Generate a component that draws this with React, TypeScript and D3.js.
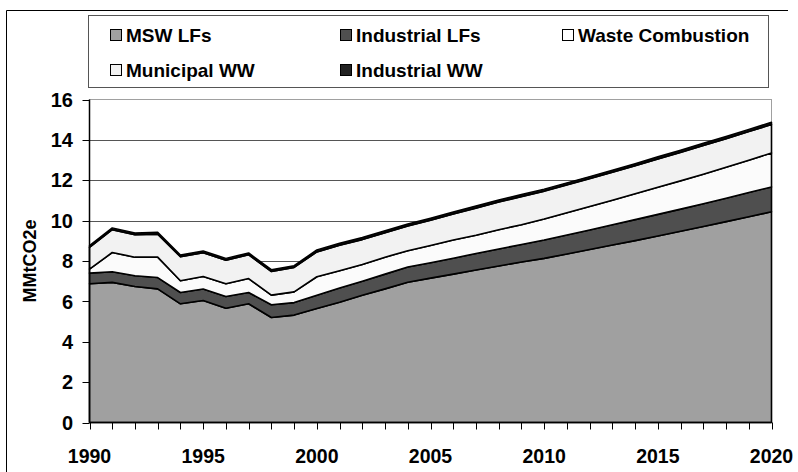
import * as d3 from "d3";

// years on the x axis
const years = d3.range(1990, 2021);

// MMtCO2e by source, 1990-2020
const mswLFs = [
  6.87, 6.94, 6.74, 6.62, 5.88, 6.04, 5.66, 5.88, 5.2, 5.32,
  5.65, 5.96, 6.3, 6.62, 6.95, 7.15, 7.35, 7.55, 7.75, 7.95,
  8.13, 8.35, 8.57, 8.79, 9.01, 9.24, 9.47, 9.71, 9.95, 10.19, 10.44,
];
const industrialLFs = [
  0.53, 0.53, 0.53, 0.56, 0.56, 0.57, 0.58, 0.56, 0.63, 0.62,
  0.65, 0.7, 0.7, 0.73, 0.75, 0.76, 0.79, 0.82, 0.84, 0.87,
  0.91, 0.94, 0.97, 1.01, 1.04, 1.07, 1.1, 1.13, 1.16, 1.2, 1.23,
];
const wasteCombustion = [
  0.2, 0.95, 0.92, 1.01, 0.58, 0.62, 0.63, 0.69, 0.48, 0.53,
  0.92, 0.86, 0.83, 0.84, 0.81, 0.86, 0.9, 0.91, 0.96, 0.98,
  1.04, 1.1, 1.16, 1.21, 1.28, 1.34, 1.4, 1.46, 1.53, 1.6, 1.68,
];
const municipalWW = [
  1.07, 1.13, 1.11, 1.14, 1.19, 1.18, 1.17, 1.18, 1.17, 1.21,
  1.23, 1.26, 1.23, 1.21, 1.22, 1.25, 1.29, 1.34, 1.37, 1.39,
  1.38, 1.38, 1.38, 1.39, 1.39, 1.4, 1.41, 1.42, 1.42, 1.42, 1.41,
];
const industrialWW = [
  0.09, 0.09, 0.09, 0.09, 0.09, 0.09, 0.09, 0.09, 0.09, 0.09,
  0.1, 0.1, 0.1, 0.1, 0.1, 0.1, 0.1, 0.1, 0.1, 0.1,
  0.1, 0.1, 0.1, 0.1, 0.1, 0.11, 0.11, 0.11, 0.11, 0.11, 0.11,
];

const seriesNames = ["MSW LFs", "Industrial LFs", "Waste Combustion", "Municipal WW", "Industrial WW"];
const seriesValues = [mswLFs, industrialLFs, wasteCombustion, municipalWW, industrialWW];
const fills = ["#a0a0a0", "#4f4f4f", "#fbfbfb", "#f2f2f2", "#111111"];
const swatches = ["#a0a0a0", "#4f4f4f", "#ffffff", "#f2f2f2", "#222222"];
const yTicks = [0, 2, 4, 6, 8, 10, 12, 14, 16];
const xLabels = [1990, 1995, 2000, 2005, 2010, 2015, 2020];

const font = "'Liberation Sans', Arial, sans-serif";

export default function App() {
  const width = 798;
  const height = 472;
  const left = 89.5;
  const right = 771.5;
  const top = 99.5;
  const bottom = 422.5;

  const x = d3.scaleLinear().domain([1990, 2020]).range([left, right]);
  const y = d3.scaleLinear().domain([0, 16]).range([bottom, top]);

  // build table for the stack
  const table = years.map((yr, i) => {
    const row: any = { year: yr };
    seriesNames.forEach((n, j) => (row[n] = seriesValues[j][i]));
    return row;
  });
  const stacked = d3.stack<any>().keys(seriesNames)(table);

  const area = d3
    .area<any>()
    .x((d) => x(d.data.year))
    .y0((d) => y(d[0]))
    .y1((d) => y(d[1]));

  // legend positions
  const legendCols = [110, 340, 562];
  const legendRows = [35, 70];

  return (
    <svg
      width={width}
      height={height}
      style={{ position: "absolute", left: 0, top: 0, background: "#fff" }}
      fontFamily={font}
    >
      {/* outer frame */}
      <line x1={6.5} y1={10.5} x2={788} y2={10.5} stroke="#000" strokeWidth={1} />
      <line x1={6.5} y1={10.5} x2={6.5} y2={472} stroke="#000" strokeWidth={1} />

      {/* legend */}
      <rect x={88.5} y={15.5} width={680} height={72} fill="#fff" stroke="#555" strokeWidth={1} />
      {seriesNames.map((n, i) => {
        const cx = legendCols[i % 3];
        const cy = legendRows[Math.floor(i / 3)];
        return (
          <g key={n}>
            <rect x={cx + 0.5} y={cy - 5.5} width={11} height={11} fill={swatches[i]} stroke="#000" strokeWidth={1} />
            <text x={cx + 16} y={cy} dy="0.36em" fontSize={19} fontWeight="bold">
              {n}
            </text>
          </g>
        );
      })}

      {/* plot area border (gray) */}
      <rect x={left} y={top} width={right - left} height={bottom - top} fill="#fff" stroke="#a0a0a0" strokeWidth={1} />

      {/* gridlines */}
      {yTicks.slice(1, -1).map((t) => (
        <line key={t} x1={left} x2={right} y1={Math.round(y(t)) + 0.5} y2={Math.round(y(t)) + 0.5} stroke="#555" strokeWidth={1} />
      ))}

      {/* stacked areas */}
      {stacked.map((s, i) => (
        <path
          key={s.key}
          d={area(s) || ""}
          fill={fills[i]}
          stroke="#000"
          strokeWidth={i === 4 ? 1.5 : 1.6}
          strokeLinejoin="round"
        />
      ))}

      {/* axes */}
      <line x1={left} x2={left} y1={top} y2={bottom} stroke="#000" strokeWidth={1.5} />
      <line x1={left} x2={right} y1={bottom} y2={bottom} stroke="#000" strokeWidth={1.5} />

      {yTicks.map((t) => (
        <g key={t}>
          <line x1={left - 7} x2={left} y1={Math.round(y(t)) + 0.5} y2={Math.round(y(t)) + 0.5} stroke="#000" strokeWidth={1} />
          <text x={73} y={y(t)} dy="0.36em" textAnchor="end" fontSize={20} fontWeight="bold">
            {t}
          </text>
        </g>
      ))}

      {years.map((yr) => (
        <line key={yr} x1={Math.round(x(yr)) + 0.5} x2={Math.round(x(yr)) + 0.5} y1={bottom} y2={bottom + 7} stroke="#000" strokeWidth={1} />
      ))}
      {xLabels.map((yr) => (
        <text key={yr} x={x(yr)} y={463} textAnchor="middle" fontSize={19.5} fontWeight="bold">
          {yr}
        </text>
      ))}

      {/* y axis title */}
      <text
        transform={`translate(36,${(top + bottom) / 2}) rotate(-90)`}
        textAnchor="middle"
        fontSize={18}
        fontWeight="bold"
      >
        MMtCO2e
      </text>
    </svg>
  );
}
